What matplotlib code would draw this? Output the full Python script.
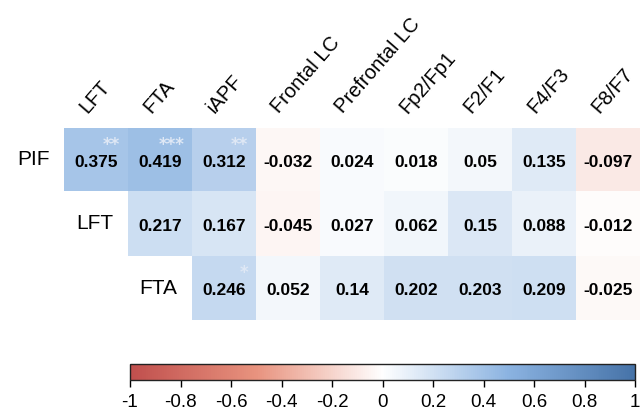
import numpy as np
import matplotlib
matplotlib.use("Agg")
import matplotlib.pyplot as plt
from matplotlib.colors import LinearSegmentedColormap

rows = ["PIF", "LFT", "FTA"]
cols = ["LFT", "FTA", "iAPF", "Frontal LC", "Prefrontal LC", "Fp2/Fp1", "F2/F1", "F4/F3", "F8/F7"]
pif = [0.375, 0.419, 0.312, -0.032, 0.024, 0.018, 0.05, 0.135, -0.097]
lft = [np.nan, 0.217, 0.167, -0.045, 0.027, 0.062, 0.15, 0.088, -0.012]
fta = [np.nan, np.nan, 0.246, 0.052, 0.14, 0.202, 0.203, 0.209, -0.025]
pif_stars = ["**", "***", "**", "", "", "", "", "", ""]
lft_stars = ["", "", "", "", "", "", "", "", ""]
fta_stars = ["", "", "*", "", "", "", "", "", ""]
cbar_ticks = [-1, -0.8, -0.6, -0.4, -0.2, 0, 0.2, 0.4, 0.6, 0.8, 1]

values = np.ma.masked_invalid(np.array([pif, lft, fta]))
stars = [pif_stars, lft_stars, fta_stars]

cmap = LinearSegmentedColormap.from_list("corr", [
    (0.0, (0.753, 0.310, 0.302)),
    (0.25, (0.910, 0.575, 0.495)),
    (0.5, (1.0, 1.0, 1.0)),
    (0.75, (0.545, 0.702, 0.882)),
    (1.0, (0.275, 0.451, 0.659)),
])
cmap.set_bad((1, 1, 1, 0))

fig = plt.figure(figsize=(6.44, 4.13), dpi=100)
ax = fig.add_axes([64 / 644, 1 - 320 / 413, 576 / 644, 192 / 413])
im = ax.imshow(values, cmap=cmap, vmin=-1, vmax=1, aspect="auto", interpolation="nearest")
ax.set_axis_off()

for i, r in enumerate(rows):
    ax.text(i - 0.5 - 0.23, i, r, ha="right", va="center", fontsize=15,
            family="Liberation Sans", color="black")
    for j in range(len(cols)):
        v = values[i, j]
        if np.ma.is_masked(v):
            continue
        ax.text(j, i + 0.04, f"{v:g}", ha="center", va="center", fontsize=12.5,
                fontweight="bold", family="Liberation Sans", color="black")
        if stars[i][j]:
            ax.text(j + 0.38, i - 0.24, stars[i][j], ha="right", va="center", fontsize=12,
                    fontweight="bold", family="DejaVu Sans", color="#dfe8f5")

# column labels, slanted above each column
for j, c in enumerate(cols):
    ax.text(j - 0.14, -0.5 - 0.22, c, rotation=49, rotation_mode="anchor",
            ha="left", va="baseline", fontsize=14.5, family="Liberation Sans",
            color="black", clip_on=False)

cax = fig.add_axes([130 / 644, 1 - 380 / 413, 505 / 644, 16 / 413])
cb = fig.colorbar(im, cax=cax, orientation="horizontal", ticks=cbar_ticks)
cb.ax.set_xticklabels([f"{t:g}" for t in cbar_ticks], fontsize=13.5, family="Liberation Sans")
cb.ax.tick_params(length=5, width=1, pad=5, colors="black")
cb.outline.set_linewidth(1)
cb.outline.set_edgecolor("#222222")

fig.savefig("out.png", dpi=100)
